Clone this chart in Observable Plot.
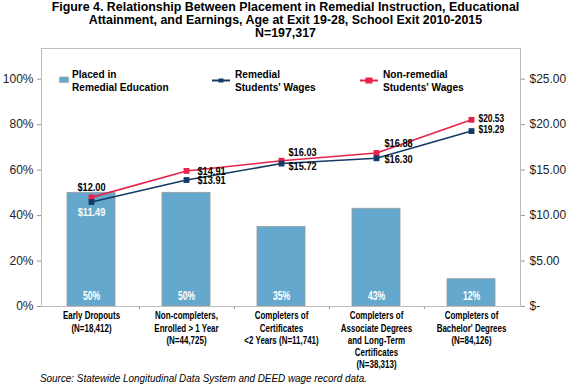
<!DOCTYPE html>
<html><head><meta charset="utf-8">
<script src="https://cdn.jsdelivr.net/npm/d3@7"></script>
<script src="https://cdn.jsdelivr.net/npm/@observablehq/plot@0.6"></script>
<style>
body{margin:0;background:#fff;width:570px;height:388px;position:relative;overflow:hidden;font-family:"Liberation Sans",Arial,sans-serif;color:#000}
#title{height:40px;text-align:center;font-weight:bold;font-size:12.5px;line-height:13.2px;padding-top:1px;box-sizing:border-box}
#title span{display:inline-block;transform:scaleX(0.993);transform-origin:center;white-space:nowrap}
#chart{height:332px}
#caption{font-style:italic;font-size:11.5px;line-height:13px;padding-left:40px;height:16px;white-space:nowrap}
#caption span{display:inline-block;transform:scaleX(0.86);transform-origin:left center}
.lg{position:absolute;font-weight:bold;font-size:11.5px;line-height:12.5px;transform:scaleX(0.88);transform-origin:left top;white-space:nowrap}
.sw{position:absolute}
</style></head>
<body>
<div id="title"><span>Figure 4. Relationship Between Placement in Remedial Instruction, Educational<br>Attainment, and Earnings, Age at Exit 19-28, School Exit 2010-2015<br>N=197,317</span></div>
<div id="chart"></div>
<div id="caption"><span>Source: Statewide Longitudinal Data System and DEED wage record data.</span></div>
<script>
const categories = [
  "Early Dropouts\n(N=18,412)",
  "Non-completers,\nEnrolled > 1 Year\n(N=44,725)",
  "Completers of\nCertificates\n<2 Years (N=11,741)",
  "Completers of\nAssociate Degrees\nand Long-Term\nCertificates\n(N=38,313)",
  "Completers of\nBachelor' Degrees\n(N=84,126)"
];
const remedialShare = [0.50, 0.50, 0.35, 0.43, 0.12];
const remedialWages = [11.49, 13.91, 15.72, 16.30, 19.29];
const nonRemedialWages = [12.00, 14.91, 16.03, 16.88, 20.53];
const pctTicks = [0, 0.2, 0.4, 0.6, 0.8, 1.0];
const wageTicks = [0, 5, 10, 15, 20, 25];
const seriesNames = ["Placed in\nRemedial Education", "Remedial\nStudents' Wages", "Non-remedial\nStudents' Wages"];

const wageMax = d3.max(wageTicks);
const BAR = "#64a9cd", NAVY = "#133b66", RED = "#e8234b";

const bars = categories.map((c, i) => ({cat: c, share: remedialShare[i]}));
const rem = categories.map((c, i) => ({cat: c, wage: remedialWages[i], i}));
const non = categories.map((c, i) => ({cat: c, wage: nonRemedialWages[i], i}));
const money = w => w === 0 ? "$-" : "$" + w.toFixed(2);

const W = 570, ML = 41, MR = 50;
const step = (W - ML - MR) / categories.length;

// label placement per point index: [dx, dy, anchor, size]
const redPos = [[0,-10,"middle",11.5],[11,0,"start",11.5],[7,-8,"start",11.5],[8,-10,"start",11.5],[7,-1,"start",10.5]];
const bluePos = [[0,10,"middle",11.5],[11,0,"start",11.5],[7,3,"start",11.5],[8,1,"start",11.5],[7,-1,"start",10.5]];
const labelMarks = (rows, pos, fill) => pos.map(([dx, dy, anchor, size], k) =>
  Plot.text(rows, {filter: d => d.i === k, x: "cat", y: d => d.wage / wageMax, text: d => money(d.wage),
    dx, dy, textAnchor: anchor, fontSize: size, fontWeight: "bold", className: "wl",
    fill: k === 0 && fill === "white" ? "white" : "black"}));

const chart = Plot.plot({
  width: W, height: 332,
  marginTop: 8, marginBottom: 66, marginLeft: ML, marginRight: MR,
  style: {fontFamily: '"Liberation Sans",Arial,sans-serif', background: "white"},
  x: {domain: categories, paddingInner: 0.5, paddingOuter: 0.25, axis: null},
  y: {domain: [0, 1.135], axis: null},
  marks: [
    Plot.barY(bars, {x: "cat", y: "share", fill: BAR, stroke: "#9a9a9a", strokeWidth: 0.8}),
    Plot.text(bars, {x: "cat", y: 0, dy: -10, text: d => d3.format(".0%")(d.share), fill: "white", fontSize: 12, fontWeight: 600, className: "bl"}),
    Plot.frame({stroke: "#bdbdbd"}),
    Plot.ruleX(categories.slice(0, -1), {x: d => d, y1: 0, y2: 0, insetBottom: -3, dx: step / 2, stroke: "#999"}),
    Plot.axisY(pctTicks, {anchor: "left", label: null, tickFormat: d3.format(".0%"), tickSize: 4, tickPadding: 4, fontSize: 12, stroke: "#999", fill: "#222"}),
    Plot.axisY(wageTicks.map(w => w / wageMax), {anchor: "right", label: null, tickFormat: d => money(d * wageMax), tickSize: 4, tickPadding: 5, fontSize: 12, stroke: "#999", fill: "#222", textAnchor: "start"}),
    Plot.text(categories, {x: d => d, y: 0, dy: 4, text: d => d, lineAnchor: "top", lineHeight: 1.17, fontSize: 10.5, fontWeight: "bold", className: "cl"}),
    Plot.line(non, {x: "cat", y: d => d.wage / wageMax, stroke: RED, strokeWidth: 1.6}),
    Plot.line(rem, {x: "cat", y: d => d.wage / wageMax, stroke: NAVY, strokeWidth: 1.6}),
    Plot.dot(non, {x: "cat", y: d => d.wage / wageMax, symbol: "square", r: 3.3, fill: RED}),
    Plot.dot(rem, {x: "cat", y: d => d.wage / wageMax, symbol: "square", r: 3.3, fill: NAVY}),
    ...labelMarks(non, redPos, "black"),
    ...labelMarks(rem, bluePos, "white")
  ]
});
// condense in-chart label text horizontally (narrow face in the reference)
const squeeze = {cl: 0.76, wl: 0.8, bl: 0.72};
for (const [cls, k] of Object.entries(squeeze)) {
  chart.querySelectorAll(`g.${cls} text, .${cls} text`).forEach(t => {
    const tr = t.getAttribute("transform") || "";
    t.setAttribute("transform", `${tr} scale(${k},1)`);
  });
}
document.getElementById("chart").append(chart);

// legend
const legend = [
  {name: seriesNames[0], sx: 59, tx: 72, kind: "bar", color: BAR},
  {name: seriesNames[1], sx: 212, tx: 235, kind: "line", color: NAVY},
  {name: seriesNames[2], sx: 360, tx: 383, kind: "line", color: RED}
];
for (const l of legend) {
  const t = document.createElement("div");
  t.className = "lg";
  t.style.left = l.tx + "px"; t.style.top = "68px";
  t.innerHTML = l.name.replace("\n", "<br>");
  document.body.append(t);
  const s = document.createElementNS("http://www.w3.org/2000/svg", "svg");
  s.setAttribute("class", "sw");
  s.setAttribute("width", 20); s.setAttribute("height", 10);
  s.style.left = l.sx + "px"; s.style.top = "75px";
  s.innerHTML = l.kind === "bar"
    ? `<rect x="0.5" y="2" width="9" height="5.5" fill="${l.color}" stroke="#9a9a9a" stroke-width="0.6"/>`
    : `<line x1="0" x2="18" y1="5.5" y2="5.5" stroke="${l.color}" stroke-width="2"/><rect x="${l.color === RED ? 5.5 : 6.5}" y="${l.color === RED ? 2.5 : 3.5}" width="${l.color === RED ? 7 : 5}" height="${l.color === RED ? 6 : 4}" fill="${l.color}"/>`;
  document.body.append(s);
}
</script>
</body></html>
